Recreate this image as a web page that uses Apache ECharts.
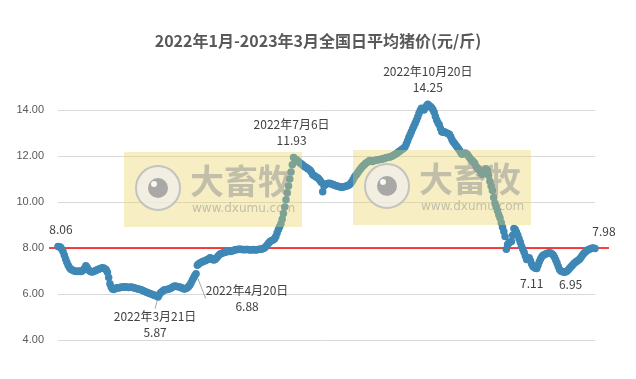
<!DOCTYPE html>
<html>
<head>
<meta charset="utf-8">
<script src="https://cdn.jsdelivr.net/npm/echarts@6/dist/echarts.min.js"></script>
<style>html,body{margin:0;padding:0;background:#fff}#c{width:636px;height:379px}</style>
</head>
<body>
<div id="c"></div>
<script>
const titleText = '2022年1月-2023年3月全国日平均猪价(元/斤)';
const startDate = '2022-01-01';
// daily average price, yuan per jin
const prices2022H1 = [
8.06,8.05,8.03,7.95,7.85,7.68,7.52,7.38,7.25,7.15,
7.08,7.05,7.02,7.00,6.99,6.98,6.99,7.00,6.98,7.00,
7.04,7.12,7.23,7.15,7.05,7.00,6.97,6.96,6.98,7.00,
7.02,7.05,7.08,7.10,7.12,7.14,7.13,7.10,7.05,6.95,
6.72,6.45,6.30,6.22,6.20,6.23,6.26,6.27,6.26,6.28,
6.30,6.29,6.30,6.31,6.30,6.29,6.28,6.29,6.30,6.28,
6.27,6.25,6.24,6.22,6.21,6.20,6.17,6.15,6.12,6.10,
6.08,6.05,6.03,6.01,5.99,5.97,5.95,5.93,5.90,5.87,
5.98,6.05,6.10,6.14,6.18,6.19,6.20,6.21,6.23,6.25,
6.28,6.32,6.35,6.34,6.33,6.31,6.30,6.28,6.26,6.23,
6.22,6.24,6.27,6.31,6.38,6.48,6.60,6.70,6.80,6.88,
7.25,7.30,7.35,7.37,7.40,7.42,7.45,7.47,7.50,7.52,
7.58,7.55,7.50,7.48,7.50,7.55,7.62,7.68,7.74,7.76,
7.78,7.80,7.82,7.84,7.85,7.86,7.85,7.87,7.88,7.90,
7.92,7.93,7.94,7.95,7.95,7.94,7.93,7.92,7.93,7.94,
7.93,7.92,7.91,7.92,7.93,7.92,7.91,7.92,7.94,7.95,
7.95,7.96,7.98,8.00,8.05,8.12,8.20,8.26,8.30,8.33,
8.36,8.40,8.50,8.65,8.80,8.92,9.05,9.25,9.50,9.78,
10.10
];
const prices2022H2 = [
10.40,10.70,11.00,11.30,11.62,11.93,11.88,11.84,11.80,
11.75,11.70,11.66,11.62,11.57,11.53,11.50,11.46,11.42,11.38,
11.30,11.20,11.15,11.12,11.08,11.05,11.00,10.92,10.85,10.45,
10.70,10.76,10.78,10.80,10.82,10.80,10.78,10.76,10.74,10.72,
10.70,10.68,10.66,10.65,10.64,10.65,10.66,10.68,10.70,10.72,
10.75,10.80,10.88,10.97,11.08,11.15,11.22,11.30,11.38,11.45,
11.52,11.58,11.63,11.68,11.72,11.76,11.80,11.78,11.76,11.78,
11.80,11.82,11.83,11.84,11.85,11.86,11.87,11.88,11.90,11.92,
11.94,11.95,11.96,11.98,12.00,12.03,12.06,12.10,12.14,12.18,
12.22,12.26,12.30,12.34,12.40,12.52,12.65,12.80,12.92,13.05,
13.18,13.30,13.42,13.55,13.70,13.85,13.98,14.08,14.05,14.00,
14.10,14.18,14.25,14.20,14.15,14.10,14.02,13.90,13.72,13.57,
13.45,13.36,13.20,13.05,13.03,13.05,13.02,13.00,12.97,12.95,
12.85,12.72,12.62,12.55,12.48,12.40,12.33,12.25,12.15,12.08,
12.10,12.12,12.12,12.08,12.00,11.92,11.85,11.80,11.74,11.68,
11.55,11.48,11.42,11.38,11.25,11.20,11.25,11.32,11.45,11.38,
11.15,10.90,10.70,10.50,10.20,9.95,9.80,9.62,9.45,9.30,
9.10,8.90,8.72,8.50,7.95,8.15,8.22,8.26,8.28,8.55,
8.85,8.80,8.68,8.55,8.40
];
const prices2023 = [
8.25,8.08,7.95,7.82,7.65,
7.50,7.55,7.58,7.45,7.30,7.20,7.15,7.12,7.11,7.25,
7.40,7.52,7.62,7.68,7.71,7.74,7.76,7.78,7.79,7.78,
7.74,7.70,7.60,7.48,7.35,7.20,7.06,7.00,6.98,6.96,
6.95,6.97,7.00,7.05,7.12,7.18,7.24,7.30,7.36,7.40,
7.44,7.48,7.52,7.60,7.68,7.75,7.80,7.86,7.90,7.93,
7.96,7.98,8.00,7.99,7.98
];
const annotIdx  = [0, 79, 109, 186, 292, 378, 400, 424];
const annotText = ['8.06', '2022年3月21日\n5.87', '2022年4月20日\n6.88', '2022年7月6日\n11.93', '2022年10月20日\n14.25', '7.11', '6.95', '7.98'];
const annotPos  = ['top', 'bottom', 'bottom', 'top', 'top', 'bottom', 'bottom', 'top'];
const annotDx   = [3, -3, 51, -2, 0, -5, 6, 9];
const annotDy   = [0, 3, 0, 0, 0, -2, -4, 0];
const guideIdx  = [79, 109];
const yMin = 4, yMax = 14, yStep = 2;
const refValue = 8;
const watermarkMain = '大畜牧';
const watermarkSub = 'www.dxumu.com';

const prices = prices2022H1.concat(prices2022H2, prices2023);
const d0 = new Date(startDate + 'T00:00:00Z');
const categories = prices.map((_, i) => {
  const d = new Date(d0.getTime() + i * 86400000);
  return d.toISOString().slice(0, 10);
});

const blue = '#3f88b6';
const seriesData = prices.map((v, i) => {
  const k = annotIdx.indexOf(i);
  if (k < 0) return v;
  const item = {
    value: v,
    label: {
      show: true, position: annotPos[k], distance: 5,
      formatter: annotText[k], color: '#404040', fontSize: 12, lineHeight: 16,
      fontFamily: '"Noto Sans CJK SC", "Noto Sans", sans-serif'
    }
  };
  if (guideIdx.indexOf(i) >= 0) {
    item.labelLine = { show: true, lineStyle: { color: '#a6a6a6', width: 1 } };
  }
  return item;
});

function watermark(px, py) {
  const z = 100;
  return {
    type: 'group', x: px, y: py, silent: true,
    children: [
      { type: 'rect', z: z, shape: { x: 0, y: 0, width: 178, height: 75 }, style: { fill: 'rgba(232,212,88,0.36)' } },
      { type: 'circle', z: z + 1, shape: { cx: 34, cy: 36, r: 22 }, style: { fill: 'rgba(240,240,240,0.7)', stroke: 'rgba(190,190,190,0.9)', lineWidth: 2 } },
      { type: 'circle', z: z + 2, shape: { cx: 34, cy: 36, r: 10 }, style: { fill: 'rgba(150,150,150,0.8)' } },
      { type: 'circle', z: z + 3, shape: { cx: 30, cy: 32, r: 3 }, style: { fill: 'rgba(255,255,255,0.9)' } },
      { type: 'text', z: z + 1, x: 66, y: 29, style: { text: watermarkMain, font: 'bold 34px "Noto Sans CJK SC"', fill: 'rgba(150,150,150,0.55)', verticalAlign: 'middle' } },
      { type: 'text', z: z + 1, x: 68, y: 57, style: { text: watermarkSub, font: '12px "DejaVu Sans"', fill: 'rgba(150,150,150,0.55)', verticalAlign: 'middle' } }
    ]
  };
}

const chart = echarts.init(document.getElementById('c'), null, { renderer: 'canvas' });
chart.setOption({
  animation: false,
  backgroundColor: '#fff',
  title: {
    text: titleText, left: 'center', top: 28,
    textStyle: { fontSize: 16, fontWeight: 'bold', color: '#595959', fontFamily: '"Noto Sans CJK SC", sans-serif' }
  },
  grid: [
    { left: 58, right: 41, top: 110, bottom: 39 },
    { left: 49, right: 27, top: 110, bottom: 39 }
  ],
  xAxis: [
    { type: 'category', data: categories, boundaryGap: false, gridIndex: 0,
      axisLine: { show: false }, axisTick: { show: false }, axisLabel: { show: false } },
    { type: 'category', data: ['a', 'b'], boundaryGap: false, gridIndex: 1, show: false }
  ],
  yAxis: [
    { type: 'value', min: yMin, max: yMax, interval: yStep, gridIndex: 0,
      axisLine: { show: false }, axisTick: { show: false },
      axisLabel: { formatter: v => v.toFixed(2), color: '#595959', fontSize: 11, margin: 14, fontFamily: '"Liberation Sans", sans-serif' },
      splitLine: { lineStyle: { color: '#d9d9d9', width: 1 } } },
    { type: 'value', min: yMin, max: yMax, gridIndex: 1, show: false, splitLine: { show: false } }
  ],
  series: [
    { type: 'line', xAxisIndex: 1, yAxisIndex: 1, data: [refValue, refValue], symbol: 'none',
      lineStyle: { color: '#ff0000', width: 1.5 }, z: 1, silent: true },
    { type: 'line', xAxisIndex: 0, yAxisIndex: 0, data: seriesData,
      symbol: 'circle', symbolSize: 7.5, showSymbol: true, showAllSymbol: true, clip: false,
      itemStyle: { color: blue, borderWidth: 0 }, lineStyle: { width: 0 },
      z: 3, silent: true,
      labelLayout: function (p) {
        const k = annotIdx.indexOf(p.dataIndex);
        if (k < 0) return {};
        return { dx: annotDx[k], dy: annotDy[k] };
      }
    }
  ],
  graphic: { elements: [watermark(124, 152), watermark(353, 150)] }
});
</script>
</body>
</html>
